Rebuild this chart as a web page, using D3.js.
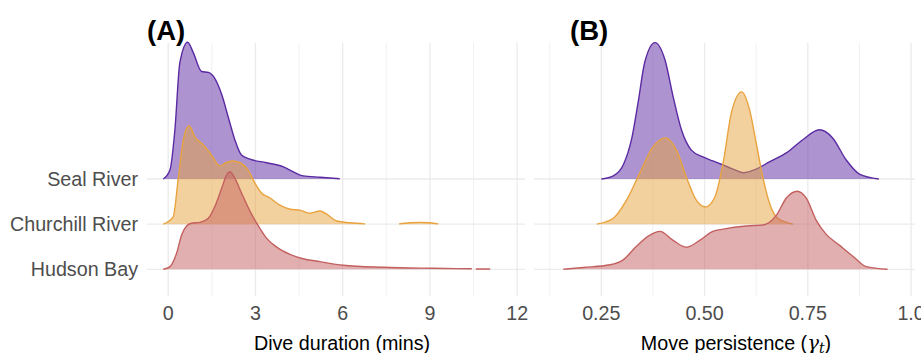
<!DOCTYPE html>
<html>
<head>
<meta charset="utf-8">
<script src="https://cdn.jsdelivr.net/npm/d3@7"></script>
<style>
  body { margin: 0; background: #fff; }
  svg { display: block; font-family: "Liberation Sans", Arial, sans-serif; }
</style>
</head>
<body>
<svg id="chart" width="921" height="353"></svg>
<script>
// rows, top to bottom
const sites = ["Seal River", "Churchill River", "Hudson Bay"];
const siteColors = ["#5b2aa3", "#e8a33e", "#c3605f"];

// ridge heights are in row units (1 = distance between two baselines); null breaks the ridge
const diveSeal = [[-0.17,0],[0.06,0.2],[0.23,1.09],[0.4,2.58],[0.67,3.03],[0.86,2.8],[1.15,2.38],[1.38,2.36],
  [1.61,2.22],[1.84,1.87],[2.06,1.38],[2.29,0.87],[2.52,0.53],[2.81,0.44],[3.38,0.36],[3.96,0.27],
  [4.3,0.16],[4.64,0.07],[5.22,0.04],[5.9,0.005]];
const diveChurchill = [[-0.17,0],[0.17,0.16],[0.34,0.98],[0.52,1.87],[0.72,2.18],[0.92,1.93],[1.2,1.76],
  [1.49,1.53],[1.78,1.29],[1.98,1.36],[2.21,1.4],[2.47,1.36],[2.75,1.2],[2.98,0.91],[3.21,0.69],
  [3.5,0.58],[3.84,0.42],[4.19,0.33],[4.53,0.31],[4.87,0.24],[5.22,0.29],[5.45,0.22],[5.79,0.07],
  [6.25,0.03],[6.77,0.005],null,[7.94,0.005],[8.3,0.03],[8.66,0.04],[9.0,0.03],[9.29,0.005]];
const diveHudson = [[-0.17,0],[0.06,0.06],[0.29,0.36],[0.46,0.76],[0.63,0.96],[0.8,1.02],[1.09,1.04],
  [1.38,1.13],[1.61,1.4],[1.84,1.8],[2.01,2.09],[2.12,2.16],[2.29,2.02],[2.52,1.69],[2.81,1.29],
  [3.1,0.96],[3.38,0.69],[3.73,0.49],[4.19,0.33],[4.6,0.24],[5.22,0.17],[6.02,0.09],[7.4,0.044],
  [9.12,0.022],[10.44,0.011],null,[10.58,0.008],[11.07,0.005]];

const moveSeal = [[0.25,0],[0.279,0.07],[0.303,0.31],[0.323,0.87],[0.339,1.69],[0.355,2.58],[0.38,3.02],
  [0.404,2.64],[0.424,1.82],[0.444,1.09],[0.468,0.64],[0.496,0.49],[0.52,0.4],[0.545,0.31],[0.569,0.22],
  [0.593,0.14],[0.625,0.22],[0.657,0.38],[0.698,0.58],[0.738,0.87],[0.778,1.09],[0.81,0.91],[0.843,0.42],
  [0.875,0.11],[0.922,0]];
const moveChurchill = [[0.239,0],[0.279,0.13],[0.311,0.53],[0.343,1.13],[0.375,1.71],[0.406,1.91],
  [0.432,1.64],[0.456,1.04],[0.48,0.53],[0.502,0.38],[0.525,0.6],[0.545,1.36],[0.565,2.47],[0.59,2.93],
  [0.609,2.53],[0.625,1.8],[0.641,1.04],[0.657,0.47],[0.677,0.13],[0.714,0]];
const moveHudson = [[0.158,0],[0.206,0.04],[0.271,0.1],[0.303,0.21],[0.335,0.51],[0.363,0.73],[0.392,0.84],
  [0.424,0.64],[0.456,0.49],[0.488,0.64],[0.52,0.84],[0.545,0.89],[0.601,0.96],[0.641,0.98],[0.674,1.2],
  [0.698,1.58],[0.724,1.73],[0.746,1.58],[0.77,1.09],[0.794,0.78],[0.827,0.53],[0.859,0.29],[0.891,0.06],
  [0.943,0]];

const diveTicks = [0, 3, 6, 9, 12];
const diveMinor = [1.5, 4.5, 7.5, 10.5];
const moveTicks = [0.25, 0.5, 0.75, 1.0];
const moveTickLabels = ["0.25", "0.50", "0.75", "1.0"];
const moveMinor = [0.125, 0.375, 0.625, 0.875];

const svg = d3.select("#chart");
const plotTop = 42.7, plotBottom = 296;
const fontSize = 19.7;
const y = d3.scalePoint().domain(sites).range([179, 269.3]);
const rowH = y.step();

function panel({ left, right, domain, ticks, tickLabels, minor, series, tag, tagX, title, titleX }) {
  const x = d3.scaleLinear().domain(domain).range([left, right]);
  const g = svg.append("g");

  // grid
  g.selectAll(".minor").data(minor).join("line")
    .attr("x1", d => x(d)).attr("x2", d => x(d))
    .attr("y1", plotTop).attr("y2", plotBottom)
    .attr("stroke", "#ebebeb").attr("stroke-width", 0.7);
  g.selectAll(".major").data(ticks).join("line")
    .attr("x1", d => x(d)).attr("x2", d => x(d))
    .attr("y1", plotTop).attr("y2", plotBottom)
    .attr("stroke", "#ebebeb").attr("stroke-width", 1.3);
  g.selectAll(".hline").data(sites).join("line")
    .attr("x1", left).attr("x2", right)
    .attr("y1", d => y(d)).attr("y2", d => y(d))
    .attr("stroke", "#ebebeb").attr("stroke-width", 1.3);

  // ridges, top row first so lower rows sit over it
  series.forEach((pts, i) => {
    const base = y(sites[i]);
    const area = d3.area()
      .defined(d => d !== null)
      .x(d => x(d[0]))
      .y0(base)
      .y1(d => base - d[1] * rowH)
      .curve(d3.curveMonotoneX);
    const line = area.lineY1();
    g.append("path").attr("d", area(pts))
      .attr("fill", siteColors[i]).attr("fill-opacity", 0.5);
    g.append("path").attr("d", line(pts))
      .attr("fill", "none").attr("stroke", siteColors[i])
      .attr("stroke-width", 1.4);
  });

  // tick labels
  g.selectAll(".tick").data(ticks).join("text")
    .attr("x", d => x(d)).attr("y", 320)
    .attr("text-anchor", "middle")
    .attr("font-size", fontSize).attr("fill", "#4d4d4d")
    .text((d, i) => tickLabels ? tickLabels[i] : d);

  g.append("text").attr("x", tagX).attr("y", 39.5)
    .attr("font-size", 27.5).attr("font-weight", "bold").text(tag);

  const t = g.append("text").attr("x", titleX).attr("y", 350)
    .attr("text-anchor", "middle").attr("font-size", fontSize).attr("fill", "#000");
  title(t);
}

panel({
  left: 147, right: 525, domain: [-0.73, 12.27],
  ticks: diveTicks, minor: diveMinor,
  series: [diveSeal, diveChurchill, diveHudson],
  tag: "(A)", tagX: 147, titleX: 342,
  title: t => t.text("Dive duration (mins)")
});

panel({
  left: 534, right: 915, domain: [0.087, 1.0095],
  ticks: moveTicks, tickLabels: moveTickLabels, minor: moveMinor,
  series: [moveSeal, moveChurchill, moveHudson],
  tag: "(B)", tagX: 570, titleX: 736,
  title: t => {
    t.append("tspan").text("Move persistence (");
    t.append("tspan").attr("font-style", "italic").attr("font-family", "DejaVu Serif").text("γ");
    t.append("tspan").attr("font-style", "italic").attr("font-family", "DejaVu Serif")
      .attr("font-size", 14).attr("dy", 2.5).text("t");
    t.append("tspan").attr("dy", -2.5).text(")");
  }
});

// row labels
svg.selectAll(".ylab").data(sites).join("text")
  .attr("x", 138).attr("y", d => y(d))
  .attr("dy", "0.35em").attr("text-anchor", "end")
  .attr("font-size", fontSize).attr("fill", "#4d4d4d")
  .text(d => d);
</script>
</body>
</html>
